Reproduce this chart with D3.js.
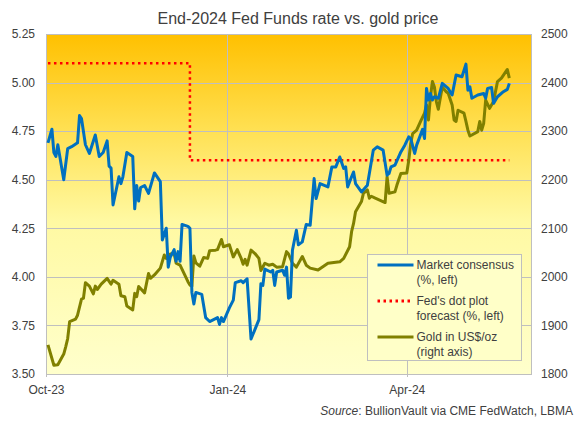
<!DOCTYPE html>
<html>
<head>
<meta charset="utf-8">
<script src="https://d3js.org/d3.v7.min.js"></script>
<style>
  body { margin: 0; background: #fff; }
  text { font-family: Arial, "Liberation Sans", sans-serif; fill: #404040; }
  .grid line { stroke: #bfbfbf; stroke-width: 1px; }
  .axis .domain { display: none; }
  .axis line { stroke: #bfbfbf; }
</style>
</head>
<body>
<svg id="chart" width="578" height="424"></svg>
<script>
// Market consensus for end-2024 Fed Funds rate (%, left axis)
const consensusDates = ["2023-10-02","2023-10-04","2023-10-05","2023-10-06","2023-10-07","2023-10-10","2023-10-12","2023-10-14","2023-10-17","2023-10-18","2023-10-19","2023-10-21","2023-10-23","2023-10-26","2023-10-28","2023-10-30","2023-11-01","2023-11-02","2023-11-03","2023-11-04","2023-11-07","2023-11-08","2023-11-09","2023-11-11","2023-11-14","2023-11-15","2023-11-16","2023-11-17","2023-11-18","2023-11-20","2023-11-22","2023-11-25","2023-11-28","2023-11-29","2023-12-01","2023-12-02","2023-12-03","2023-12-05","2023-12-06","2023-12-07","2023-12-08","2023-12-09","2023-12-12","2023-12-13","2023-12-14","2023-12-15","2023-12-16","2023-12-19","2023-12-21","2023-12-23","2023-12-25","2023-12-27","2023-12-28","2023-12-29","2023-12-30","2024-01-02","2024-01-04","2024-01-05","2024-01-08","2024-01-09","2024-01-11","2024-01-13","2024-01-15","2024-01-17","2024-01-18","2024-01-19","2024-01-20","2024-01-23","2024-01-24","2024-01-25","2024-01-26","2024-01-29","2024-01-30","2024-01-31","2024-02-01","2024-02-02","2024-02-03","2024-02-05","2024-02-06","2024-02-08","2024-02-10","2024-02-12","2024-02-14","2024-02-15","2024-02-17","2024-02-21","2024-02-23","2024-02-25","2024-02-27","2024-02-29","2024-03-01","2024-03-02","2024-03-04","2024-03-05","2024-03-06","2024-03-09","2024-03-12","2024-03-15","2024-03-17","2024-03-20","2024-03-22","2024-03-23","2024-03-24","2024-03-26","2024-03-29","2024-03-31","2024-04-02","2024-04-03","2024-04-05","2024-04-06","2024-04-09","2024-04-10","2024-04-11","2024-04-12","2024-04-13","2024-04-14","2024-04-15","2024-04-17","2024-04-19","2024-04-22","2024-04-24","2024-04-26","2024-04-29","2024-05-01","2024-05-02","2024-05-03","2024-05-04","2024-05-07","2024-05-10","2024-05-11","2024-05-12","2024-05-14","2024-05-15","2024-05-17","2024-05-20","2024-05-22","2024-05-23"];
const consensusValues = [4.69,4.76,4.64,4.62,4.68,4.50,4.66,4.67,4.69,4.83,4.815,4.68,4.635,4.73,4.62,4.64,4.70,4.57,4.56,4.37,4.515,4.48,4.515,4.64,4.62,4.35,4.47,4.39,4.46,4.47,4.43,4.535,4.49,4.19,4.25,4.05,4.10,4.14,4.08,4.13,4.08,4.27,4.26,4.25,3.92,3.86,3.92,3.91,3.79,3.77,3.78,3.79,3.755,3.79,3.77,3.84,3.88,3.97,3.98,3.97,3.99,3.68,3.73,3.78,3.965,3.956,4.04,4.025,4.034,3.956,4.025,4.034,4.008,4.05,3.89,3.896,4.137,4.24,4.165,4.18,4.27,4.266,4.506,4.403,4.48,4.463,4.566,4.566,4.617,4.558,4.566,4.463,4.515,4.54,4.48,4.437,4.472,4.652,4.669,4.652,4.523,4.532,4.566,4.575,4.643,4.678,4.721,4.712,4.635,4.678,4.759,4.712,4.97,4.91,4.944,4.91,4.927,4.919,4.996,4.97,4.936,5.039,5.03,5.095,4.961,4.978,4.919,4.936,4.944,4.919,4.97,4.975,4.893,4.927,4.953,4.965,4.996];

// Fed's dot plot median for end-2024 (%, left axis)
const dotPlotDates = ["2023-10-02","2023-12-13","2023-12-13","2024-05-23"];
const dotPlotValues = [5.1,5.1,4.6,4.6];

// Gold price, US$/oz (right axis)
const goldDates = ["2023-10-02","2023-10-05","2023-10-07","2023-10-10","2023-10-11","2023-10-12","2023-10-13","2023-10-16","2023-10-17","2023-10-19","2023-10-20","2023-10-21","2023-10-23","2023-10-25","2023-10-26","2023-10-27","2023-10-29","2023-11-01","2023-11-03","2023-11-04","2023-11-07","2023-11-08","2023-11-10","2023-11-11","2023-11-14","2023-11-15","2023-11-16","2023-11-17","2023-11-20","2023-11-22","2023-11-23","2023-11-25","2023-11-28","2023-11-30","2023-12-01","2023-12-03","2023-12-05","2023-12-06","2023-12-08","2023-12-10","2023-12-12","2023-12-13","2023-12-14","2023-12-15","2023-12-16","2023-12-18","2023-12-20","2023-12-22","2023-12-23","2023-12-26","2023-12-27","2023-12-29","2023-12-30","2024-01-02","2024-01-04","2024-01-06","2024-01-08","2024-01-09","2024-01-10","2024-01-11","2024-01-13","2024-01-15","2024-01-17","2024-01-18","2024-01-20","2024-01-22","2024-01-24","2024-01-26","2024-01-29","2024-01-31","2024-02-01","2024-02-03","2024-02-05","2024-02-08","2024-02-10","2024-02-12","2024-02-16","2024-02-21","2024-02-27","2024-02-29","2024-03-03","2024-03-04","2024-03-05","2024-03-06","2024-03-09","2024-03-10","2024-03-12","2024-03-13","2024-03-14","2024-03-16","2024-03-21","2024-03-22","2024-03-23","2024-03-26","2024-03-27","2024-03-29","2024-04-01","2024-04-02","2024-04-03","2024-04-04","2024-04-06","2024-04-08","2024-04-10","2024-04-11","2024-04-12","2024-04-13","2024-04-14","2024-04-15","2024-04-16","2024-04-17","2024-04-18","2024-04-19","2024-04-21","2024-04-22","2024-04-24","2024-04-25","2024-04-26","2024-04-27","2024-04-30","2024-05-01","2024-05-02","2024-05-03","2024-05-04","2024-05-07","2024-05-08","2024-05-09","2024-05-10","2024-05-11","2024-05-13","2024-05-15","2024-05-17","2024-05-19","2024-05-22","2024-05-23"];
const goldValues = [1860,1818,1819,1841,1856,1873,1908,1913,1921,1954,1956,1988,1981,1965,1981,1974,1985,1997,1985,1993,1985,1961,1959,1940,1932,1966,1959,1980,1967,2007,1997,2004,2018,2045,2038,2047,2048,2028,2024,2007,1990,1983,1981,2043,2029,2022,2040,2038,2054,2055,2056,2077,2062,2066,2041,2056,2038,2026,2036,2024,2055,2048,2038,2013,2028,2024,2026,2020,2021,2052,2047,2028,2020,2042,2024,2018,2014,2028,2031,2038,2062,2093,2110,2134,2155,2172,2179,2162,2166,2162,2153,2206,2172,2175,2189,2213,2214,2240,2275,2295,2302,2320,2337,2354,2323,2371,2402,2391,2361,2345,2368,2391,2381,2378,2354,2323,2320,2343,2337,2320,2302,2290,2292,2299,2320,2302,2316,2364,2347,2361,2402,2409,2427,2409];

const leftTicks = [3.50,3.75,4.00,4.25,4.50,4.75,5.00,5.25];
const rightTicks = [1800,1900,2000,2100,2200,2300,2400,2500];
const monthTicks = ["2023-10-01","2024-01-01","2024-04-01"];
const legendItems = [
  { lines: ["Market consensus", "(%, left)"], color: "#0070c0", dash: null },
  { lines: ["Fed's dot plot", "forecast (%, left)"], color: "#ff0000", dash: "2.5,3.5" },
  { lines: ["Gold in US$/oz", "(right axis)"], color: "#808000", dash: null }
];

const parse = d3.timeParse("%Y-%m-%d");
const svg = d3.select("#chart");
const plot = { left: 46, right: 531, top: 34, bottom: 374 };

const x = d3.scaleTime()
  .domain([parse("2023-10-01"), parse("2024-06-03")])
  .range([plot.left, plot.right]);
const yLeft = d3.scaleLinear().domain([3.5, 5.25]).range([plot.bottom, plot.top]);
const yRight = d3.scaleLinear().domain([1800, 2500]).range([plot.bottom, plot.top]);

// background gradient, orange at top fading to pale yellow
const defs = svg.append("defs");
const grad = defs.append("linearGradient").attr("id", "bg")
  .attr("x1", 0).attr("y1", 0).attr("x2", 0).attr("y2", 1);
grad.append("stop").attr("offset", "0%").attr("stop-color", "#ffc000");
grad.append("stop").attr("offset", "28%").attr("stop-color", "#ffe052");
grad.append("stop").attr("offset", "55%").attr("stop-color", "#fff9a2");
grad.append("stop").attr("offset", "100%").attr("stop-color", "#ffffcc");

svg.append("rect")
  .attr("x", plot.left).attr("y", plot.top)
  .attr("width", plot.right - plot.left).attr("height", plot.bottom - plot.top)
  .attr("fill", "url(#bg)");

// gridlines
svg.append("g").attr("class", "grid")
  .selectAll("line").data(leftTicks)
  .join("line")
  .attr("x1", plot.left).attr("x2", plot.right)
  .attr("y1", d => Math.round(yLeft(d)) + 0.5).attr("y2", d => Math.round(yLeft(d)) + 0.5);

svg.append("g").attr("class", "grid")
  .selectAll("line").data(monthTicks)
  .join("line")
  .attr("x1", d => Math.round(x(parse(d))) + 0.5).attr("x2", d => Math.round(x(parse(d))) + 0.5)
  .attr("y1", plot.top).attr("y2", plot.bottom + 3);

// plot border
svg.append("rect")
  .attr("x", plot.left + 0.5).attr("y", plot.top + 0.5)
  .attr("width", plot.right - plot.left).attr("height", plot.bottom - plot.top)
  .attr("fill", "none").attr("stroke", "#bfbfbf");

// axes
const leftAxis = svg.append("g").attr("class", "axis")
  .attr("transform", `translate(${plot.left - 8},0)`)
  .call(d3.axisLeft(yLeft).tickValues(leftTicks).tickFormat(d3.format(".2f")).tickSize(0));
leftAxis.selectAll("text").style("font-size", "12px").attr("dx", 0);

const rightAxis = svg.append("g").attr("class", "axis")
  .attr("transform", `translate(${plot.right + 7},0)`)
  .call(d3.axisRight(yRight).tickValues(rightTicks).tickFormat(d3.format("d")).tickSize(0));
rightAxis.selectAll("text").style("font-size", "12px").attr("dx", 0);

const fmtMonth = d3.timeFormat("%b-%y");
const bottomAxis = svg.append("g").attr("class", "axis")
  .attr("transform", `translate(0,${plot.bottom + 8})`)
  .call(d3.axisBottom(x).tickValues(monthTicks.map(parse)).tickFormat(fmtMonth).tickSize(0));
bottomAxis.selectAll("text").style("font-size", "12px");

// series
const consensus = consensusDates.map((d, i) => ({ date: parse(d), value: consensusValues[i] }));
const dotPlot = dotPlotDates.map((d, i) => ({ date: parse(d), value: dotPlotValues[i] }));
const gold = goldDates.map((d, i) => ({ date: parse(d), value: goldValues[i] }));

const lineLeft = d3.line().x(d => x(d.date)).y(d => yLeft(d.value));
const lineRight = d3.line().x(d => x(d.date)).y(d => yRight(d.value));

svg.append("path").datum(dotPlot)
  .attr("d", lineLeft)
  .attr("fill", "none").attr("stroke", "#ff0000")
  .attr("stroke-width", 2.5).attr("stroke-dasharray", "2.5,3.5");

svg.append("path").datum(gold)
  .attr("d", lineRight)
  .attr("fill", "none").attr("stroke", "#808000")
  .attr("stroke-width", 3).attr("stroke-linejoin", "round");

svg.append("path").datum(consensus)
  .attr("d", lineLeft)
  .attr("fill", "none").attr("stroke", "#0070c0")
  .attr("stroke-width", 3).attr("stroke-linejoin", "round");

// legend
const legend = svg.append("g").attr("transform", "translate(367.5,254.5)");
legend.append("rect")
  .attr("width", 154).attr("height", 106)
  .attr("fill", "#ffffc8").attr("stroke", "#bfbfbf");

const item = legend.selectAll("g.item").data(legendItems)
  .join("g").attr("class", "item")
  .attr("transform", (d, i) => `translate(0,${10.5 + i * 36})`);

item.append("line")
  .attr("x1", 10).attr("x2", 46).attr("y1", 0).attr("y2", 0)
  .attr("stroke", d => d.color).attr("stroke-width", 3)
  .attr("stroke-dasharray", d => d.dash);

item.selectAll("text").data(d => d.lines)
  .join("text")
  .attr("x", 49).attr("y", (d, i) => 4 + i * 15)
  .style("font-size", "12px")
  .text(d => d);

// title and source
svg.append("text")
  .attr("x", 298).attr("y", 24)
  .attr("text-anchor", "middle")
  .style("font-size", "16px")
  .text("End-2024 Fed Funds rate vs. gold price");

const source = svg.append("text")
  .attr("x", 573).attr("y", 415)
  .attr("text-anchor", "end")
  .style("font-size", "12px");
source.append("tspan").style("font-style", "italic").text("Source");
source.append("tspan").text(": BullionVault via CME FedWatch, LBMA");
</script>
</body>
</html>
